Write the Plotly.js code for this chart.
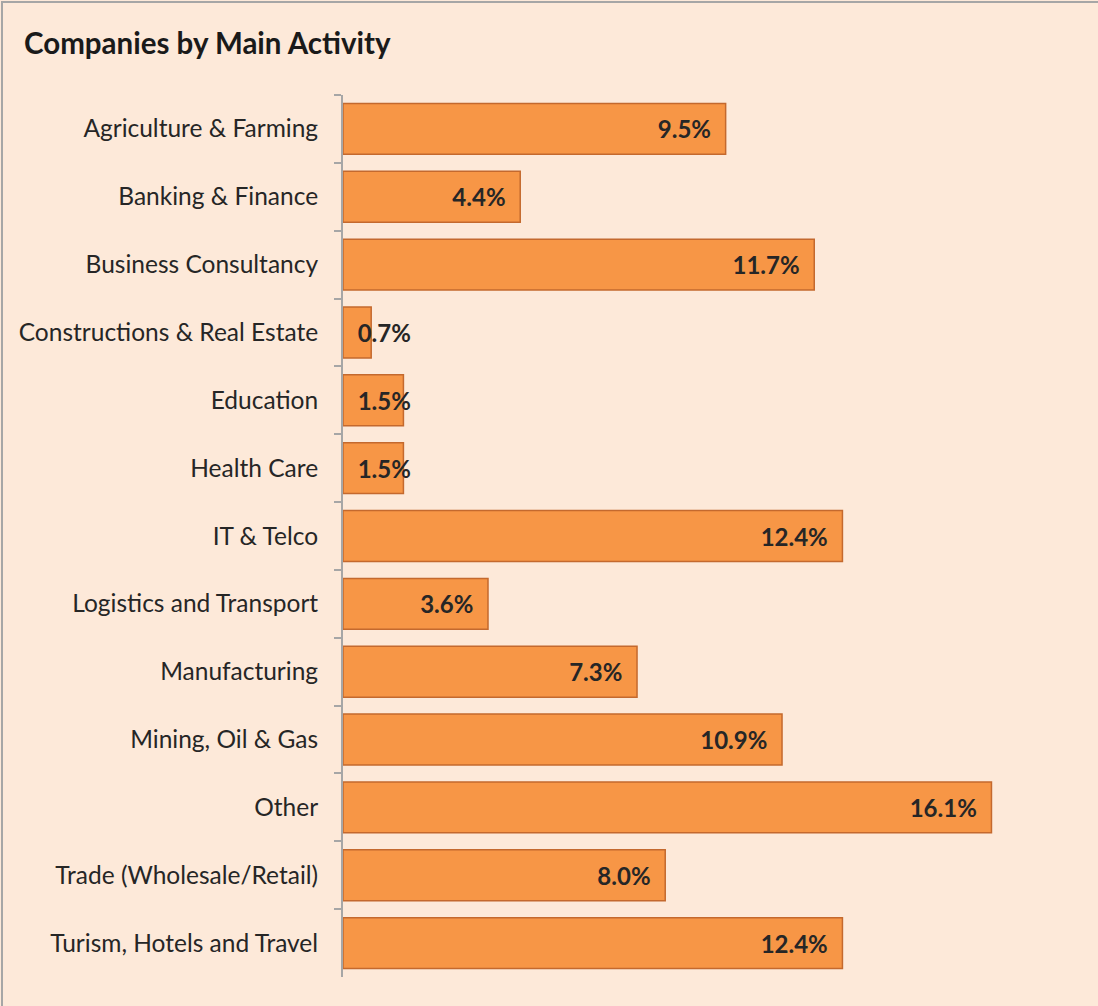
<!DOCTYPE html>
<html>
<head>
<meta charset="utf-8">
<script src="https://cdn.plot.ly/plotly-3.0.1.min.js"></script>
<style>
  html, body { margin: 0; padding: 0; background: #FDE9D9; }
  #wrap { position: relative; width: 1098px; height: 1006px; overflow: hidden; }
  #chart { position: absolute; left: 0; top: 0; width: 1098px; height: 1006px; }
  #frame { position: absolute; left: 1px; top: 1px; width: 1200px; height: 1200px;
           border-top: 2px solid #A6A6A6; border-left: 2px solid #A6A6A6; pointer-events: none; }
</style>
</head>
<body>
<div id="wrap">
  <div id="chart"></div>
  <div id="frame"></div>
</div>
<script>
const categories = [
  "Agriculture & Farming",
  "Banking & Finance",
  "Business Consultancy",
  "Constructions & Real Estate",
  "Education",
  "Health Care",
  "IT & Telco",
  "Logistics and Transport",
  "Manufacturing",
  "Mining, Oil & Gas",
  "Other",
  "Trade (Wholesale/Retail)",
  "Turism, Hotels and Travel"
];
const shares = [9.5, 4.4, 11.7, 0.7, 1.5, 1.5, 12.4, 3.6, 7.3, 10.9, 16.1, 8.0, 12.4];
const chartTitle = "Companies by Main Activity";

const FONT = "Lato, 'Open Sans', sans-serif";
const NB = "\u00A0";
const SMALL = 2; // labels of bars shorter than this start at the bar base
const label = v => v.toFixed(1) + "%";

const labelFont = { family: FONT, size: 24, color: "#262626", weight: "bold" };

const bars = {
  type: "bar",
  orientation: "h",
  y: categories,
  x: shares,
  text: shares.map(v => v >= SMALL ? label(v) + NB + NB : ""),
  textposition: "inside",
  insidetextanchor: "end",
  constraintext: "none",
  textangle: 0,
  cliponaxis: false,
  textfont: labelFont,
  marker: { color: "#F79646", line: { color: "#C4692E", width: 1.5 } },
  hoverinfo: "skip"
};

const smallLabels = {
  type: "bar",
  orientation: "h",
  y: categories,
  x: shares,
  text: shares.map(v => v < SMALL ? NB + NB + label(v) : ""),
  textposition: "inside",
  insidetextanchor: "start",
  constraintext: "none",
  textangle: 0,
  cliponaxis: false,
  textfont: labelFont,
  marker: { color: "rgba(0,0,0,0)", line: { width: 0 } },
  hoverinfo: "skip"
};

const layout = {
  width: 1098,
  height: 1006,
  paper_bgcolor: "#FDE9D9",
  plot_bgcolor: "#FDE9D9",
  margin: { l: 343, r: 30, t: 95, b: 29 },
  barmode: "overlay",
  bargap: 0.25,
  showlegend: false,
  font: { family: FONT, color: "#262626" },
  title: {
    text: "<b>" + chartTitle + "</b>",
    font: { family: FONT, size: 29.5, color: "#1a1a1a" },
    xref: "container", x: 24 / 1098, xanchor: "left",
    yref: "container", y: 1 - 44 / 1006, yanchor: "middle"
  },
  xaxis: {
    range: [0, 18],
    visible: false,
    showgrid: false,
    zeroline: false,
    fixedrange: true
  },
  yaxis: {
    type: "category",
    autorange: "reversed",
    showline: true,
    linecolor: "#A6A6A6",
    linewidth: 2,
    ticks: "outside",
    tickson: "boundaries",
    ticklen: 7,
    tickwidth: 2,
    tickcolor: "#A6A6A6",
    ticklabelstandoff: 18,
    tickfont: { family: FONT, size: 24.5, color: "#262626" },
    showgrid: false,
    zeroline: false,
    fixedrange: true
  }
};

Plotly.newPlot("chart", [bars, smallLabels], layout, { displayModeBar: false, staticPlot: true });
</script>
</body>
</html>
